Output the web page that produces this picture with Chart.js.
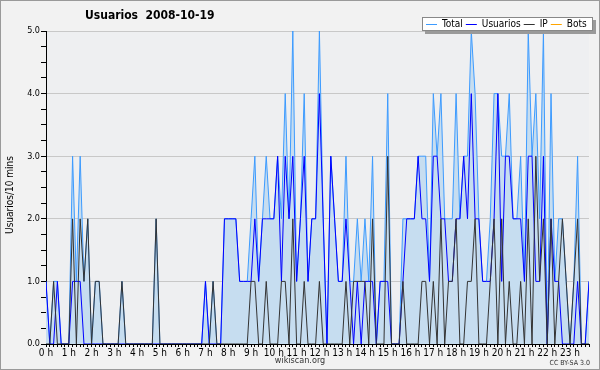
<!DOCTYPE html>
<html lang="es">
<head>
    <meta charset="UTF-8">
    <title>Usuarios 2008-10-19</title>
    <script src="https://cdn.jsdelivr.net/npm/chart.js"></script>
    <style>
        html, body { margin: 0; padding: 0; background: #f2f2f2; }
        #wrap { width: 600px; height: 370px; }
    </style>
</head>
<body>
    <div id="wrap"><canvas id="chart" width="600" height="370"></canvas></div>

    <script>
        // tramos de 10 minutos, 144 por dia
        const hourLabels = ['0 h', '1 h', '2 h', '3 h', '4 h', '5 h', '6 h', '7 h', '8 h', '9 h', '10 h', '11 h',
            '12 h', '13 h', '14 h', '15 h', '16 h', '17 h', '18 h', '19 h', '20 h', '21 h', '22 h', '23 h'];

        const totalData = [
            1, 0, 1, 1, 0, 0, 0, 3, 1, 3, 1, 2, 0, 1, 1, 0, 0, 0, 0, 0, 1, 0, 0, 0,
            0, 0, 0, 0, 0, 2, 0, 0, 0, 0, 0, 0, 0, 0, 0, 0, 0, 0, 1, 0, 1, 0, 0, 2,
            2, 2, 2, 1, 1, 1, 2, 3, 1, 2, 3, 2, 2, 3, 2, 4, 2, 5, 1, 2, 4, 1, 2, 2,
            5, 2, 0, 3, 2, 1, 1, 3, 1, 1, 2, 1, 2, 1, 3, 0, 1, 1, 4, 0, 0, 0, 2, 2,
            2, 2, 3, 3, 3, 1, 4, 3, 4, 2, 2, 2, 4, 2, 3, 3, 5, 4, 2, 1, 1, 2, 4, 4,
            3, 3, 4, 2, 2, 3, 1, 5, 3, 4, 2, 5, 0, 4, 1, 2, 2, 1, 0, 1, 3, 0, 0, 1
        ];
        const usuariosData = [
            1, 0, 0, 1, 0, 0, 0, 1, 1, 1, 0, 0, 0, 0, 0, 0, 0, 0, 0, 0, 0, 0, 0, 0,
            0, 0, 0, 0, 0, 0, 0, 0, 0, 0, 0, 0, 0, 0, 0, 0, 0, 0, 1, 0, 0, 0, 0, 2,
            2, 2, 2, 1, 1, 1, 1, 2, 1, 2, 2, 2, 2, 3, 1, 3, 2, 3, 1, 2, 3, 1, 2, 2,
            4, 2, 0, 3, 2, 1, 1, 2, 1, 0, 1, 0, 1, 1, 1, 0, 1, 1, 1, 0, 0, 0, 1, 2,
            2, 2, 3, 2, 2, 1, 3, 3, 2, 2, 1, 1, 2, 2, 3, 2, 4, 2, 2, 1, 1, 1, 2, 4,
            1, 3, 3, 2, 2, 2, 1, 3, 3, 1, 1, 3, 0, 2, 1, 1, 0, 0, 0, 0, 1, 0, 0, 1
        ];
        const ipData = [
            0, 0, 1, 0, 0, 0, 0, 2, 0, 2, 1, 2, 0, 1, 1, 0, 0, 0, 0, 0, 1, 0, 0, 0,
            0, 0, 0, 0, 0, 2, 0, 0, 0, 0, 0, 0, 0, 0, 0, 0, 0, 0, 0, 0, 1, 0, 0, 0,
            0, 0, 0, 0, 0, 0, 1, 1, 0, 0, 1, 0, 0, 0, 1, 1, 0, 2, 0, 0, 1, 0, 0, 0,
            1, 0, 0, 0, 0, 0, 0, 1, 0, 1, 1, 1, 1, 0, 2, 0, 0, 0, 3, 0, 0, 0, 1, 0,
            0, 0, 0, 1, 1, 0, 1, 0, 2, 0, 1, 1, 2, 0, 0, 1, 1, 2, 0, 0, 0, 1, 2, 0,
            2, 0, 1, 0, 0, 1, 0, 2, 0, 3, 1, 2, 0, 2, 0, 1, 2, 1, 0, 1, 2, 0, 0, 0
        ];
        const botsData = [];

        const seriesNames = ['Total', 'Usuarios', 'IP', 'Bots'];
        const seriesColors = ['#3d9bff', '#0000ff', '#333333', '#ffa500'];

        const FONT = "'DejaVu Sans Condensed', 'DejaVu Sans', sans-serif";
        Chart.defaults.font.family = FONT;
        Chart.defaults.color = '#000';

        const toPoints = arr => arr.map((v, i) => ({ x: i, y: v }));

        // fondo, titulo, leyenda y pie
        const decor = {
            id: 'decor',
            beforeDraw(chart) {
                const { ctx, chartArea: a } = chart;
                ctx.save();
                ctx.fillStyle = '#f2f2f2';
                ctx.fillRect(0, 0, chart.width, chart.height);
                ctx.strokeStyle = '#9a9a9a';
                ctx.strokeRect(0.5, 0.5, chart.width - 1, chart.height - 1);
                ctx.fillStyle = '#eeeff1';
                ctx.fillRect(a.left, a.top, a.right - a.left, a.bottom - a.top);
                ctx.restore();
            },
            afterDraw(chart) {
                const { ctx } = chart;
                ctx.save();
                ctx.fillStyle = '#000';
                ctx.textBaseline = 'middle';
                ctx.font = 'bold 12px ' + FONT;
                ctx.fillText('Usuarios  2008-10-19', 85, 16);

                ctx.save();
                ctx.translate(10, 195);
                ctx.rotate(-Math.PI / 2);
                ctx.textAlign = 'center';
                ctx.font = '10px ' + FONT;
                ctx.fillText('Usuarios/10 mins', 0, 0);
                ctx.restore();

                ctx.textAlign = 'center';
                ctx.font = '9px ' + FONT;
                ctx.fillStyle = '#333';
                ctx.fillText('wikiscan.org', 300, 361);
                ctx.textAlign = 'right';
                ctx.font = '7px ' + FONT;
                ctx.fillText('CC BY-SA 3.0', 590, 363);

                // leyenda
                const bx = 422, by = 17, bw = 171, bh = 14;
                ctx.fillStyle = '#9a9a9a';
                ctx.fillRect(bx + 3, by + 3, bw, bh);
                ctx.fillStyle = '#fff';
                ctx.fillRect(bx, by, bw, bh);
                ctx.strokeStyle = '#888';
                ctx.lineWidth = 1;
                ctx.strokeRect(bx + 0.5, by + 0.5, bw - 1, bh - 1);
                ctx.font = '10px ' + FONT;
                ctx.textAlign = 'left';
                let x = 426;
                chart.data.datasets.forEach(ds => {
                    ctx.strokeStyle = ds.borderColor;
                    ctx.beginPath();
                    ctx.moveTo(x, 24.5);
                    ctx.lineTo(x + 11, 24.5);
                    ctx.stroke();
                    ctx.fillStyle = '#000';
                    ctx.fillText(ds.label, x + 16, 24.5);
                    x += 16 + ctx.measureText(ds.label).width + 3;
                });
                ctx.restore();
            }
        };

        new Chart(document.getElementById('chart'), {
            type: 'line',
            data: {
                datasets: [
                    { label: seriesNames[0], data: toPoints(totalData), borderColor: seriesColors[0],
                      backgroundColor: '#c6ddf0', fill: 'origin', order: 3 },
                    { label: seriesNames[1], data: toPoints(usuariosData), borderColor: seriesColors[1], order: 2 },
                    { label: seriesNames[2], data: toPoints(ipData), borderColor: seriesColors[2], order: 1 },
                    { label: seriesNames[3], data: toPoints(botsData), borderColor: seriesColors[3], order: 0 }
                ]
            },
            options: {
                responsive: false,
                animation: false,
                layout: { padding: { top: 31, right: 11, bottom: 10, left: 0 } },
                elements: {
                    line: { borderWidth: 1, tension: 0 },
                    point: { radius: 0 }
                },
                plugins: {
                    legend: { display: false },
                    title: { display: false },
                    tooltip: { enabled: false }
                },
                scales: {
                    x: {
                        type: 'linear',
                        min: 0,
                        max: 143,
                        afterFit: s => { s.height = 16; },
                        border: { color: '#000' },
                        grid: { drawOnChartArea: false, tickLength: 3, tickColor: '#000' },
                        ticks: {
                            stepSize: 1,
                            autoSkip: false,
                            maxRotation: 0,
                            padding: 0,
                            font: { size: 10 },
                            callback: v => (v % 6 === 0 ? hourLabels[v / 6] : '')
                        }
                    },
                    y: {
                        min: 0,
                        max: 5,
                        afterFit: s => { s.width = 46; },
                        border: { color: '#000' },
                        grid: {
                            tickLength: 5,
                            tickColor: '#000',
                            color: c => (Number.isInteger(c.tick.value) ? '#c8c8c8' : 'rgba(0,0,0,0)')
                        },
                        ticks: {
                            stepSize: 0.25,
                            autoSkip: false,
                            padding: 1,
                            font: { size: 9 },
                            callback: v => (Number.isInteger(v) ? v.toFixed(1) : '')
                        }
                    }
                }
            },
            plugins: [decor]
        });
    </script>
</body>
</html>
